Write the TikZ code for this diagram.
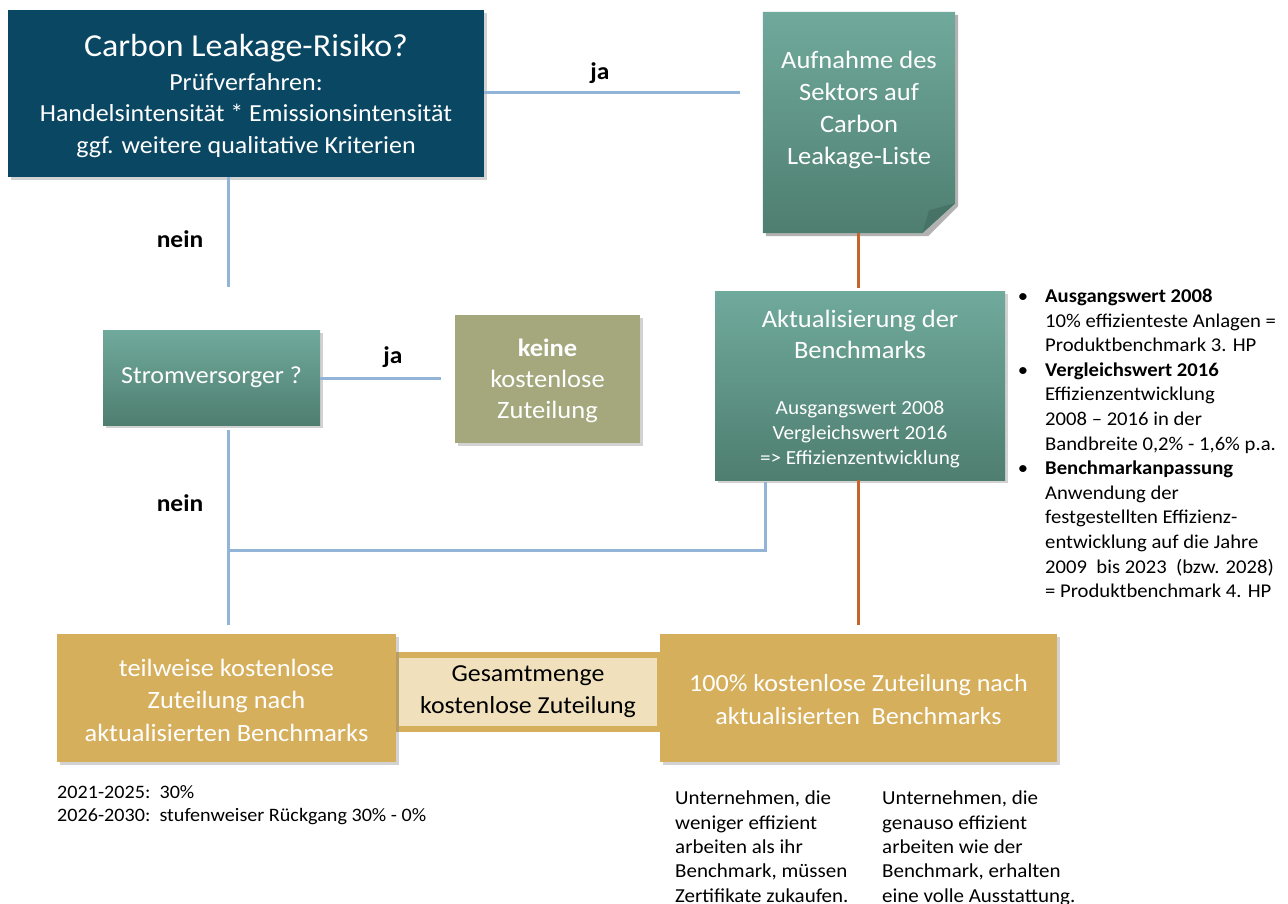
\documentclass[tikz,border=0pt]{standalone}
\usepackage{fontspec}
\setmainfont{Carlito}[FakeStretch=1.06]
\usetikzlibrary{shadows}
\definecolor{darkbox}{RGB}{10,71,99}
\definecolor{tealtop}{RGB}{112,170,156}
\definecolor{tealbot}{RGB}{78,126,112}
\definecolor{olivebox}{RGB}{164,168,124}
\definecolor{goldbox}{RGB}{214,175,92}
\definecolor{lightband}{RGB}{240,225,188}
\definecolor{blueline}{RGB}{145,180,215}
\definecolor{orangeline}{RGB}{198,100,42}
\definecolor{foldc}{RGB}{70,115,102}
\tikzset{
  shd/.style={drop shadow={opacity=0.35,shadow xshift=3pt,shadow yshift=-3pt}},
  boxbase/.style={rectangle,inner sep=0pt,align=center,text=white,shd},
  darkst/.style={boxbase,fill=darkbox},
  tealst/.style={boxbase,top color=tealtop,bottom color=tealbot},
  olivest/.style={boxbase,fill=olivebox},
  goldst/.style={boxbase,fill=goldbox},
  bl/.style={draw=blueline,line width=3pt},
  orl/.style={draw=orangeline,line width=3pt},
  lbl/.style={font=\fontsize{24}{26}\selectfont\bfseries,text=black},
  txt/.style={align=left,text=black,inner sep=0pt},
  wtxt/.style={align=center,text=white,inner sep=0pt},
}
\begin{document}
\begin{tikzpicture}[x=1pt,y=-1pt]
\useasboundingbox[fill=white] (0,0) rectangle (1288,903);

% band behind bottom boxes
\node[rectangle,fill=lightband,draw=goldbox,line width=6pt,minimum width=264pt,minimum height=74pt,inner sep=0pt,align=center,font=\fontsize{24.4}{32}\selectfont] (band) at (528,692) {Gesamtmenge\\kostenlose Zuteilung};

% connector end points
\coordinate (jaend) at (740,92);
\coordinate (n1end) at (228,287);
\coordinate (n2beg) at (228,430);
\coordinate (n2end) at (228,625);
\coordinate (b1) at (228,550);
\coordinate (b2) at (765,482);
\coordinate (j2end) at (441,378);
\coordinate (o1end) at (858,288);
\coordinate (o2end) at (858,625);

% boxes
\node[darkst,minimum width=476pt,minimum height=167pt] (clr) at (246,93.5) {};
\node[wtxt,font=\fontsize{24.5}{31.5}\selectfont] (clrtext) at (246,96)
  {{\fontsize{32}{32}\selectfont Carbon Leakage-Risiko?}\\[2pt]Prüfverfahren:\\Handelsintensität * Emissionsintensität\\ggf. weitere qualitative Kriterien};

\node[rectangle,minimum width=192pt,minimum height=221pt,inner sep=0pt] (aufn) at (859,122.5) {};
\fill[black,opacity=0.3] ([xshift=3pt,yshift=-3pt]aufn.north west) -- ([xshift=3pt,yshift=-3pt]aufn.north east) -- ([xshift=3pt,yshift=27pt]aufn.south east) -- ([xshift=-27pt,yshift=-3pt]aufn.south east) -- ([xshift=3pt,yshift=-3pt]aufn.south west) -- cycle;
\shade[top color=tealtop,bottom color=tealbot] (aufn.north west) -- (aufn.north east) -- ([yshift=30pt]aufn.south east) -- ([xshift=-33pt]aufn.south east) -- (aufn.south west) -- cycle;
\fill[foldc] ([xshift=-33pt]aufn.south east) -- ([yshift=30pt]aufn.south east) -- ([xshift=-26pt,yshift=23pt]aufn.south east) -- cycle;
\node[wtxt,font=\fontsize{25}{32}\selectfont] (aufntext) at (859,110) {Aufnahme des\\Sektors auf\\Carbon\\Leakage-Liste};

\node[tealst,minimum width=290pt,minimum height=189pt] (akt) at (860,385.5) {};
\node[wtxt,font=\fontsize{25}{31}\selectfont] (akttitle) at (860,334) {Aktualisierung der\\Benchmarks};
\node[wtxt,font=\fontsize{20}{25}\selectfont] (aktsub) at (860,434) {Ausgangswert 2008\\Vergleichswert 2016\\=> Effizienzentwicklung};

\node[tealst,minimum width=217pt,minimum height=95pt,font=\fontsize{24.5}{28}\selectfont] (str) at (211.5,377.5) {\raisebox{-2pt}{Stromversorger ?}};

\node[olivest,minimum width=185pt,minimum height=128pt] (keine) at (547.5,379) {};
\node[wtxt,font=\fontsize{25}{31}\selectfont] (keinetext) at (547.5,381) {\textbf{keine}\\kostenlose\\Zuteilung};

\node[goldst,minimum width=339pt,minimum height=128pt] (teil) at (226.5,698) {};
\node[wtxt,font=\fontsize{24.9}{32.5}\selectfont] (teiltext) at (226.5,700) {teilweise kostenlose\\Zuteilung nach\\aktualisierten Benchmarks};

\node[goldst,minimum width=397pt,minimum height=128pt] (voll) at (858.5,698) {};
\node[wtxt,font=\fontsize{24.6}{33}\selectfont] (volltext) at (858.5,700) {100\% kostenlose Zuteilung nach\\aktualisierten\ \ Benchmarks};

% connectors
\draw[bl] (clr.east |- jaend) -- (jaend);
\draw[bl] (clr.south -| n1end) -- (n1end);
\draw[bl] (n2beg) -- (n2end);
\draw[bl] (b1) -- (b1 -| b2) -- (b2);
\draw[bl] (str.east |- j2end) -- (j2end);
\draw[orl] (aufn.south -| o1end) -- (o1end);
\draw[orl] (akt.south -| o2end) -- (o2end);

% labels
\node[lbl] (ja1) at (600,73) {ja};
\node[lbl] (nein1) at (180,239) {nein};
\node[lbl] (ja2) at (393,357) {ja};
\node[lbl] (nein2) at (180,503) {nein};

% right bullet list
\node[txt,anchor=north west,font=\fontsize{19.5}{24.58}\selectfont] (bul) at (1045,289)
{\llap{\textbullet\hspace{17pt}}\textbf{Ausgangswert 2008}\\
10\% effizienteste Anlagen =\\
Produktbenchmark 3. HP\\
\llap{\textbullet\hspace{17pt}}\textbf{Vergleichswert 2016}\\
Effizienzentwicklung\\
2008 -- 2016 in der\\
Bandbreite 0,2\% - 1,6\% p.a.\\
\llap{\textbullet\hspace{17pt}}\textbf{Benchmarkanpassung}\\
Anwendung der\\
festgestellten Effizienz-\\
entwicklung auf die Jahre\\
2009\ \ bis 2023\ \ (bzw. 2028)\\
= Produktbenchmark 4. HP};

% bottom left text
\node[txt,anchor=north west,font=\fontsize{19}{23}\selectfont] (years) at (57,785)
{2021-2025:\ \ 30\%\\2026-2030:\ \ stufenweiser Rückgang 30\% - 0\%};

% bottom right columns
\node[txt,anchor=north west,font=\fontsize{19.8}{24.3}\selectfont] (col1) at (675,791)
{Unternehmen, die\\weniger effizient\\arbeiten als ihr\\Benchmark, müssen\\Zertifikate zukaufen.};
\node[txt,anchor=north west,font=\fontsize{19.8}{24.3}\selectfont] (col2) at (882,791)
{Unternehmen, die\\genauso effizient\\arbeiten wie der\\Benchmark, erhalten\\eine volle Ausstattung.};
\end{tikzpicture}
\end{document}
